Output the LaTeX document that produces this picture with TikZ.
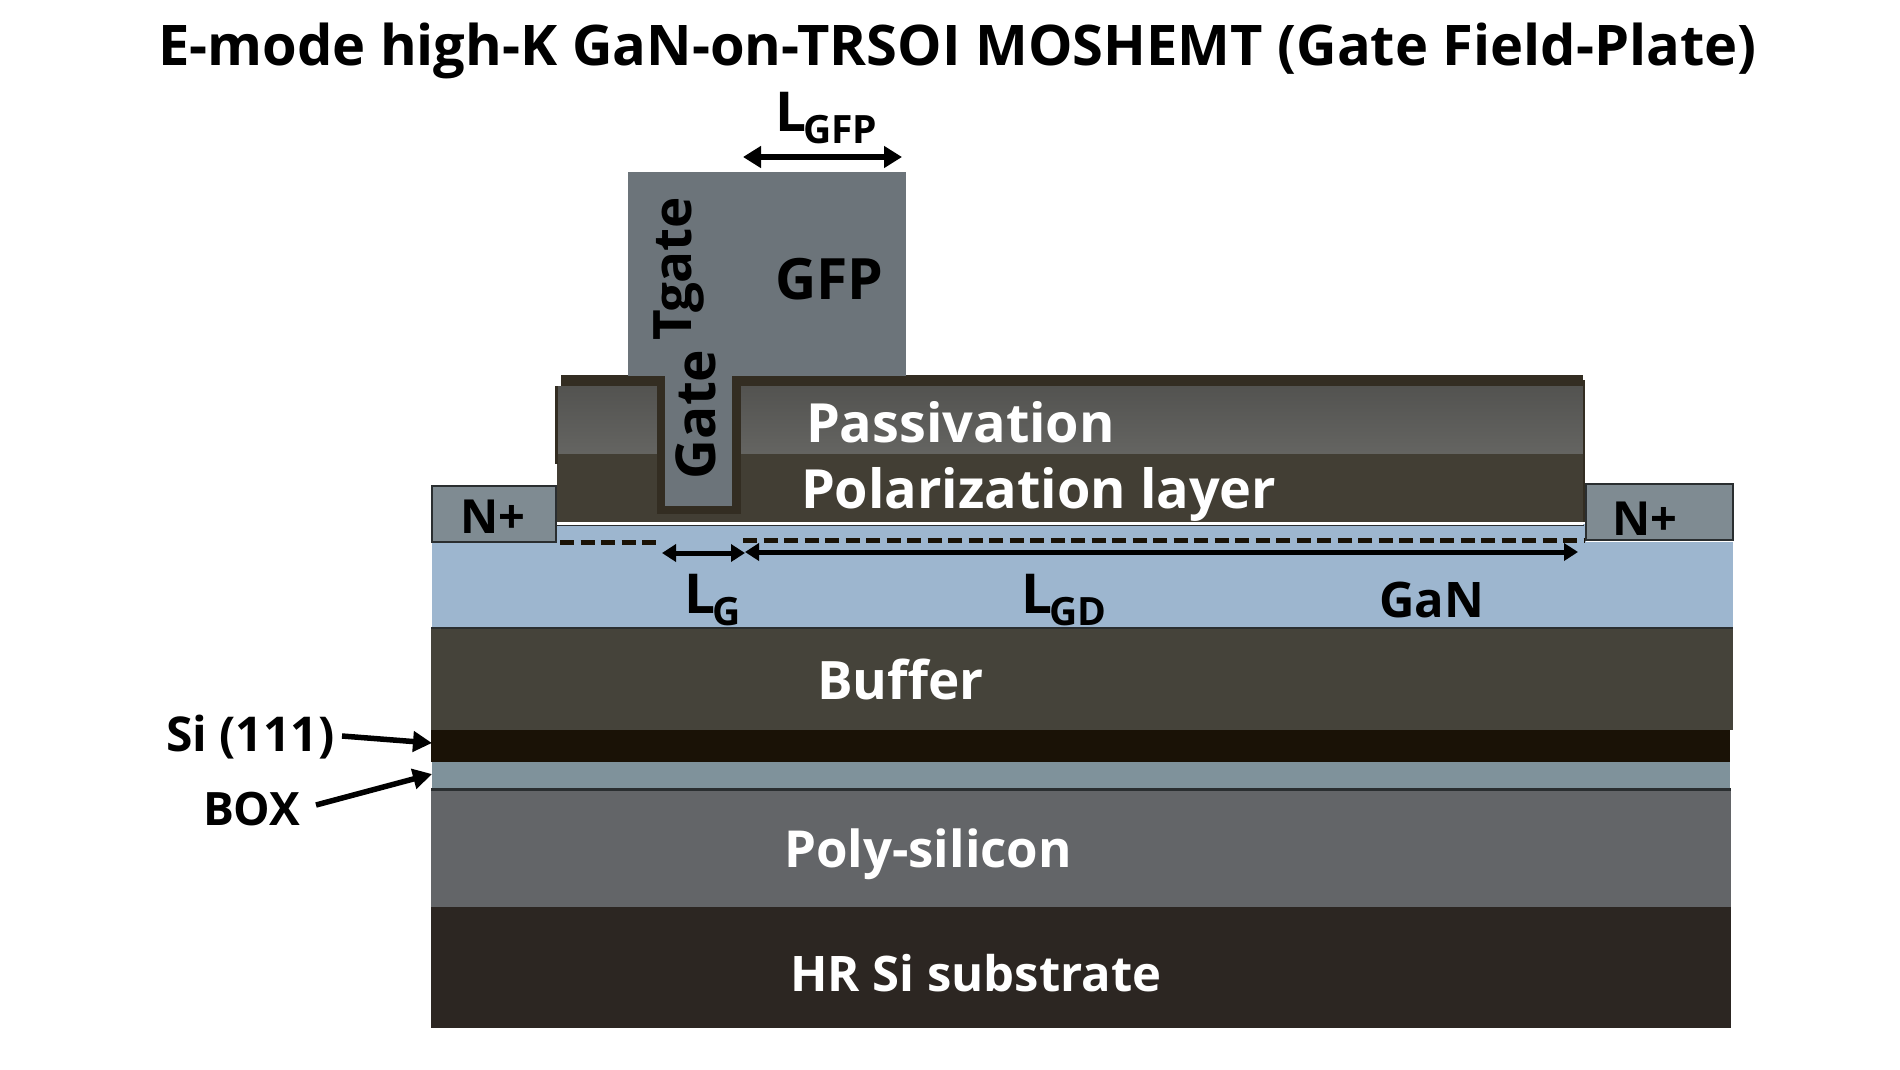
\documentclass[tikz,border=0pt]{standalone}
\usepackage{fontspec}
\setmainfont{Open Sans}
\usetikzlibrary{arrows.meta}
\definecolor{cGate}{HTML}{6C747A}
\definecolor{cNp}{HTML}{7F8B92}
\definecolor{cGaN}{HTML}{9DB6CF}
\definecolor{cBuf}{HTML}{45433A}
\definecolor{cSi}{HTML}{1A1206}
\definecolor{cBox}{HTML}{7F929B}
\definecolor{cPoly}{HTML}{636568}
\definecolor{cHR}{HTML}{2C2622}
\definecolor{cPass}{HTML}{5C5C59}
\definecolor{cPol}{HTML}{423E34}
\definecolor{cLin}{HTML}{332D22}
\definecolor{cEdge}{HTML}{2A2E30}
\newcommand{\LabelSub}[1]{\fontsize{55}{60}\selectfont L\hspace{-3pt}\raisebox{-12pt}{\fontsize{39}{40}\selectfont #1}}
\tikzset{
  txt/.style={inner sep=0pt,outer sep=0pt,anchor=base west,font=\bfseries\fontsize{#1}{#1}\selectfont},
  txt/.default=50,
  wht/.style={txt=#1,text=white},
  wht/.default=50,
  dimarrow/.style={line width=5.5pt,{Triangle[length=18pt,width=21pt]}-{Triangle[length=18pt,width=21pt]}},
  dimshort/.style={line width=5pt,{Triangle[length=14pt,width=17pt]}-{Triangle[length=14pt,width=17pt]}},
  leader/.style={line width=5.5pt,-{Triangle[length=19pt,width=20pt]}},
  chan/.style={line width=5pt,dash pattern=on 14pt off 6.5pt,cSi}
}
\begin{document}
\begin{tikzpicture}[x=1pt,y=-1pt]
\useasboundingbox (0,0) rectangle (1900,1069);
\fill[white] (0,0) rectangle (1900,1069);
% substrate stack
\fill[cHR] (431,907) rectangle (1731,1028);
\fill[cPoly] (431,790) rectangle (1731,907);
\fill[cBox] (432,762) rectangle (1730,788);
\fill[cEdge] (431,787.5) rectangle (1731,790.5);
\fill[cSi] (431,730) rectangle (1730,762);
\fill[cBuf] (431,628) rectangle (1733,730);
\fill[cGaN] (432,542) rectangle (1733,628);
\fill[cGaN] (557,524) rectangle (1586,542);
\fill[cEdge] (431,626.5) rectangle (1733,629);
% device stack
\fill[white] (557,521.5) rectangle (1583,524.5);
\draw[cEdge,line width=1pt] (557,525.2) -- (1584,525.2);
\fill[cPol] (557,453) rectangle (1584,522);
\shade[top color=cPass!90!black,bottom color=cPass!95!white] (555,386) rectangle (1584,453);
\fill[cLin] (555,386) rectangle (558,464);
\fill[cLin] (561,375) rectangle (1583,386);
\fill[cLin] (1583,380) rectangle (1585,522);
\fill[cLin] (657,375) rectangle (741,514);
% N+ regions
\draw[fill=cNp,draw=cEdge,line width=2pt] (432,486) rectangle (556,542);
\draw[fill=cNp,draw=cEdge,line width=2pt] (1586,484) rectangle (1733,540);
% T gate
\fill[cGate] (628,172) rectangle (906,375.5);
\fill[cGate] (665,375) rectangle (732,506);
% channel
\draw[chan] (560,542) -- (662,542);
\draw[chan] (743,540) -- (1584,540);
% named end points
\coordinate (gfpL) at (743,157);
\coordinate (gfpR) at (902,157);
\coordinate (lgL) at (662,553);
\coordinate (lgR) at (745,553);
\coordinate (lgdL) at (745,552);
\coordinate (lgdR) at (1578,552);
\coordinate (siFrom) at (342,736);
\coordinate (siTo) at (432,743);
\coordinate (boxFrom) at (316,805);
\coordinate (boxTo) at (432,774);
\draw[dimarrow] (gfpL) -- (gfpR);
\draw[dimshort] (lgL) -- (lgR);
\draw[dimshort] (lgdL) -- (lgdR);
\draw[leader] (siFrom) -- (siTo);
\draw[leader] (boxFrom) -- (boxTo);
% labels
\node[txt=56] (title) at (158,65) {E-mode high-K GaN-on-TRSOI MOSHEMT (Gate Field-Plate)};
\node[txt] (llgfp) at (775,131) {\LabelSub{GFP}};
\node[txt=57] (gfp) at (775,299) {GFP};
\node[txt=53,rotate=90] (tgate) at (691,340) {Tgate};
\node[txt=55,rotate=90] (gate) at (715,479) {Gate};
\node[txt=47] (np1) at (460,533) {N+};
\node[txt=47] (np2) at (1612,535) {N+};
\node[wht=54] (pass) at (806,442) {Passivation};
\node[wht=54] (pol) at (801,508) {Polarization layer};
\node[txt] (llg) at (684,613) {\LabelSub{G}};
\node[txt] (llgd) at (1021,613) {\LabelSub{GD}};
\node[txt=49] (gan) at (1379,617) {GaN};
\node[wht=53] (buf) at (817,699) {Buffer};
\node[wht=51] (poly) at (784,867) {Poly-silicon};
\node[wht=49] (hr) at (790,991) {HR Si substrate};
\node[txt=48] (si) at (166,751) {Si (111)};
\node[txt=46] (bx) at (203,825) {BOX};
\end{tikzpicture}
\end{document}
